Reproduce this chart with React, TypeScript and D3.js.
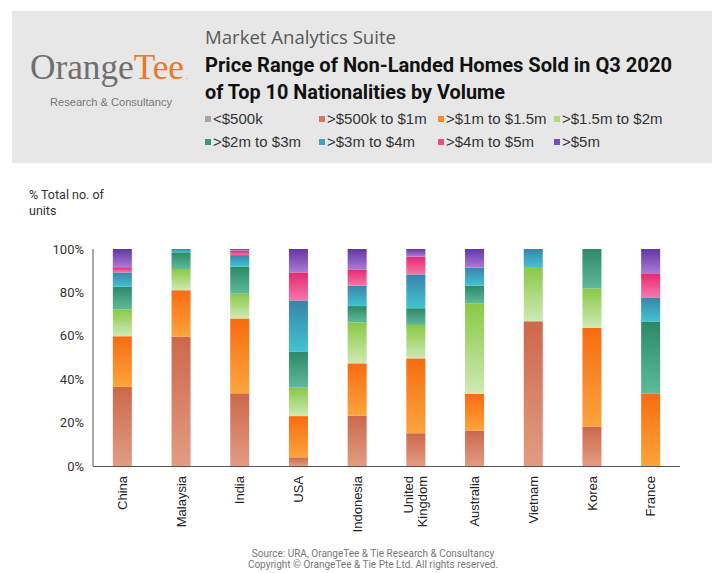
import React from "react";
import * as d3 from "d3";

const countries = ["China", "Malaysia", "India", "USA", "Indonesia", "United Kingdom", "Australia", "Vietnam", "Korea", "France"];
const seriesKeys = ["<$500k", ">$500k to $1m", ">$1m to $1.5m", ">$1.5m to $2m", ">$2m to $3m", ">$3m to $4m", ">$4m to $5m", ">$5m"];

const lt500k = [0, 0, 0, 0, 0, 0, 0, 0, 0, 0];
const k500to1m = [36.5, 59.6, 33.5, 4.0, 23.2, 15.1, 16.3, 66.7, 18.2, 0];
const m1to1_5 = [23.3, 21.4, 34.5, 19.0, 24.1, 34.5, 16.9, 0, 45.4, 33.3];
const m1_5to2 = [12.4, 9.8, 11.4, 13.1, 18.9, 15.4, 41.8, 25.0, 18.2, 0];
const m2to3 = [10.4, 7.7, 12.5, 16.7, 7.5, 7.7, 8.1, 0, 18.2, 33.3];
const m3to4 = [6.6, 1.5, 5.3, 23.5, 9.4, 15.6, 8.3, 8.3, 0, 11.1];
const m4to5 = [2.4, 0, 2.0, 12.9, 7.5, 8.2, 0, 0, 0, 11.1];
const gt5m = [8.4, 0, 0.8, 10.8, 9.4, 3.5, 8.6, 0, 0, 11.2];

const seriesValues = [lt500k, k500to1m, m1to1_5, m1_5to2, m2to3, m3to4, m4to5, gt5m];
const yTicks = [0, 20, 40, 60, 80, 100];

const gradTop = ["#a0a0a0", "#cd684a", "#f86c10", "#88c945", "#2d8867", "#3a83ab", "#e6286f", "#6536a3"];
const gradBottom = ["#b4b4b4", "#e29c83", "#fca43c", "#d0e9b5", "#5eba98", "#40c4d0", "#f577ab", "#a97ad8"];
const legendColors = ["#a6a6a6", "#d8785a", "#f98a2a", "#a9dc7c", "#3b9a74", "#3aa6c4", "#ee4a8a", "#7b4cc0"];

export default function App() {
  const W = 717, H = 573;
  const x0 = 93, x1 = 680, yTop = 249, yBot = 466;

  const x = d3.scaleBand<string>().domain(countries).range([x0, x1]).paddingInner(0.676).paddingOuter(0.338);
  const y = d3.scaleLinear().domain([0, 100]).range([yBot, yTop]);

  const rows = countries.map((c, i) => {
    const r: any = { country: c };
    seriesKeys.forEach((k, j) => (r[k] = seriesValues[j][i]));
    return r;
  });
  const stacked = d3.stack<any>().keys(seriesKeys)(rows);

  const legendPos = [
    [205, 124], [319, 124], [438, 124], [554, 124],
    [205, 147], [319, 147], [438, 147], [554, 147],
  ];

  return (
    <svg width={W} height={H} style={{ position: "absolute", left: 0, top: 0, background: "#fff" }}>
      <defs>
        {seriesKeys.map((k, j) => (
          <linearGradient key={k} id={`g${j}`} x1="0" y1="0" x2="0" y2="1">
            <stop offset="0%" stopColor={gradTop[j]} />
            <stop offset="100%" stopColor={gradBottom[j]} />
          </linearGradient>
        ))}
      </defs>

      {/* header box */}
      <rect x={12} y={11} width={700} height={152} fill="#e7e7e7" />

      {/* logo */}
      <text x={30} y={79} fontFamily="'Liberation Serif', 'DejaVu Serif', serif" fontSize={36} textLength={154} lengthAdjust="spacingAndGlyphs">
        <tspan fill="#6f6f6f">Orange</tspan>
        <tspan fill="#e8792c">Tee</tspan>
      </text>
      <text x={186} y={79} fontFamily="Liberation Sans, Arial, sans-serif" fontSize={7} fill="#e8792c">.</text>
      <text x={50} y={106} fontFamily="'Liberation Sans', Arial, sans-serif" fontSize={10.5} fill="#777" textLength={122} lengthAdjust="spacingAndGlyphs">Research &amp; Consultancy</text>

      {/* titles */}
      <text x={205} y={44} fontFamily="'Open Sans', 'Noto Sans', sans-serif" fontSize={18.5} fill="#595959" textLength={191} lengthAdjust="spacingAndGlyphs">Market Analytics Suite</text>
      <text x={205} y={72} fontFamily="'Liberation Sans Narrow', Roboto, sans-serif" fontWeight="bold" fontSize={20.5} fill="#111" textLength={467} lengthAdjust="spacingAndGlyphs">Price Range of Non-Landed Homes Sold in Q3 2020</text>
      <text x={205} y={99} fontFamily="'Liberation Sans Narrow', Roboto, sans-serif" fontWeight="bold" fontSize={20.5} fill="#111" textLength={300} lengthAdjust="spacingAndGlyphs">of Top 10 Nationalities by Volume</text>

      {/* legend */}
      {seriesKeys.map((k, j) => (
        <g key={k}>
          <rect x={legendPos[j][0]} y={legendPos[j][1] - 8} width={6} height={6} fill={legendColors[j]} />
          <text x={legendPos[j][0] + 8} y={legendPos[j][1]} fontFamily="'Liberation Sans', Arial, sans-serif" fontSize={15} fill="#333">{k}</text>
        </g>
      ))}

      {/* y axis title */}
      <text fontFamily="Roboto, sans-serif" fontSize={12.5} fill="#333">
        <tspan x={29} y={199}>% Total no. of</tspan>
        <tspan x={29} y={215}>units</tspan>
      </text>

      {/* y ticks */}
      {yTicks.map((t) => (
        <text key={t} x={84} y={y(t)} dy="0.35em" textAnchor="end" fontFamily="Roboto, sans-serif" fontSize={13} fill="#333">{`${t}%`}</text>
      ))}

      {/* bars */}
      {stacked.map((s, j) => (
        <g key={s.key} fill={`url(#g${j})`}>
          {s.map((d, i) => {
            const h = y(d[0]) - y(d[1]);
            if (h <= 0) return null;
            return <rect key={i} x={x(countries[i])} y={y(d[1])} width={x.bandwidth()} height={h} />;
          })}
        </g>
      ))}

      {/* axes lines */}
      <line x1={x0} x2={x0} y1={yTop} y2={yBot} stroke="#555" strokeWidth={1} />
      <line x1={x0} x2={x1} y1={yBot + 0.5} y2={yBot + 0.5} stroke="#555" strokeWidth={1} />

      {/* x labels */}
      {countries.map((c) => {
        const cx = (x(c) as number) + x.bandwidth() / 2;
        const parts = c === "United Kingdom" ? ["United", "Kingdom"] : [c];
        return (
          <text key={c} transform={`translate(${cx},476) rotate(-90)`} textAnchor="end" fontFamily="'Liberation Sans', Arial, sans-serif" fontSize={13} fill="#222">
            {parts.map((p, k) => (
              <tspan key={k} x={0} y={(k - (parts.length - 1) / 2) * 14} dy="0.35em">{p}</tspan>
            ))}
          </text>
        );
      })}

      {/* footer */}
      <text x={373} y={557} textAnchor="middle" fontFamily="Roboto, sans-serif" fontSize={10} fill="#777">Source: URA, OrangeTee &amp; Tie Research &amp; Consultancy</text>
      <text x={373} y={568} textAnchor="middle" fontFamily="Roboto, sans-serif" fontSize={10} fill="#777">Copyright © OrangeTee &amp; Tie Pte Ltd. All rights reserved.</text>
    </svg>
  );
}
